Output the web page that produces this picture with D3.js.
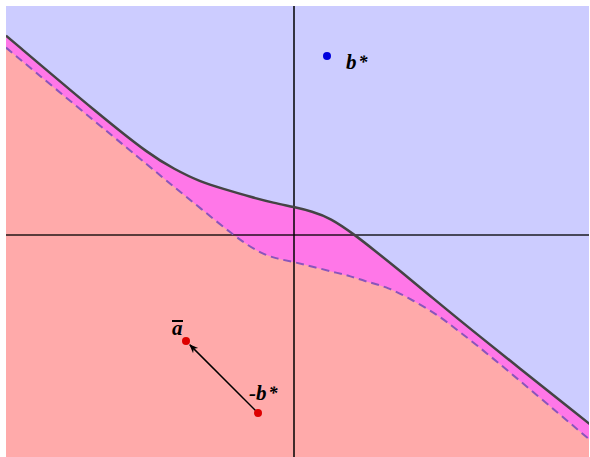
<!DOCTYPE html>
<html>
<head>
<meta charset="utf-8">
<script src="https://cdn.jsdelivr.net/npm/d3@7"></script>
<style>
  body { margin: 0; background: #fff; }
  .lbl { font-family: "Liberation Serif", "DejaVu Serif", serif; font-weight: bold; font-style: italic; font-size: 21px; }
</style>
</head>
<body>
<svg id="chart" width="590" height="457"></svg>
<script>
// upper (solid) boundary
var upperX = [-2.88, -1.92, -1.44, -1.20, -0.94, -0.70, -0.44, -0.20, 0, 0.18, 0.36, 0.61, 0.80, 1.06, 1.40, 1.73, 2.96];
var upperY = [1.994, 1.18, 0.802, 0.66, 0.532, 0.46, 0.382, 0.32, 0.28, 0.236, 0.172, 0, -0.15, -0.358, -0.64, -0.914, -1.893];

// lower (dashed) boundary
var lowerX = [-2.88, -1.92, -1.44, -1.20, -0.94, -0.61, -0.36, -0.18, 0, 0.20, 0.44, 0.56, 0.70, 0.94, 1.20, 1.44, 1.63, 1.92, 2.96];
var lowerY = [1.874, 1.076, 0.682, 0.48, 0.272, 0, -0.172, -0.236, -0.27, -0.32, -0.382, -0.41, -0.46, -0.52, -0.66, -0.80, -0.95, -1.17, -2.05];

var pointNames = ["b*", "-b*", "a"];
var pointX = [0.33, -0.36, -1.08];
var pointY = [1.79, -1.78, -1.06];

var svg = d3.select("#chart");
var padL = 6, padT = 6, padR = 589, padB = 457;

var x = d3.scaleLinear().domain([-2.88, 2.95]).range([padL, padR]);
var y = d3.scaleLinear().domain([-2.22, 2.29]).range([padB, padT]);

svg.append("clipPath").attr("id", "clip")
  .append("rect").attr("x", padL).attr("y", padT)
  .attr("width", padR - padL).attr("height", padB - padT);

var g = svg.append("g").attr("clip-path", "url(#clip)");

g.append("rect").attr("x", padL).attr("y", padT)
  .attr("width", padR - padL).attr("height", padB - padT)
  .attr("fill", "#ccccff");

var upper = upperX.map(function(v, i) { return [v, upperY[i]]; });
var lower = lowerX.map(function(v, i) { return [v, lowerY[i]]; });

var line = d3.line()
  .x(function(d) { return x(d[0]); })
  .y(function(d) { return y(d[1]); })
  .curve(d3.curveBasis);

// band between curves
var bandPath = line(upper) + "L" + x(upperX[upperX.length - 1]) + "," + y(-3) +
  "L" + x(upperX[0]) + "," + y(-3) + "Z";
g.append("path").attr("d", bandPath).attr("fill", "#ff77e8");

var lowArea = d3.area()
  .x(function(d) { return x(d[0]); })
  .y0(y(-3))
  .y1(function(d) { return y(d[1]); })
  .curve(d3.curveBasis);
g.append("path").datum(lower).attr("d", lowArea).attr("fill", "#ffaaaa");

// axes
g.append("line").attr("x1", padL).attr("x2", padR)
  .attr("y1", y(0)).attr("y2", y(0))
  .attr("stroke", "#000").attr("stroke-opacity", 0.65).attr("stroke-width", 2);
g.append("line").attr("x1", x(0)).attr("x2", x(0))
  .attr("y1", padT).attr("y2", padB)
  .attr("stroke", "#000").attr("stroke-width", 1.5);

g.append("path").datum(lower).attr("d", line)
  .attr("fill", "none").attr("stroke", "#8a55bb").attr("stroke-width", 2)
  .attr("stroke-dasharray", "8,5");
g.append("path").datum(upper).attr("d", line)
  .attr("fill", "none").attr("stroke", "#444").attr("stroke-width", 2.5);

// arrow from -b* to a-bar
svg.append("defs").append("marker")
  .attr("id", "head").attr("viewBox", "0 0 10 10")
  .attr("refX", 9).attr("refY", 5)
  .attr("markerWidth", 9).attr("markerHeight", 9)
  .attr("markerUnits", "userSpaceOnUse")
  .attr("orient", "auto")
  .append("path").attr("d", "M0,1L10,5L0,9L3,5Z").attr("fill", "#000");

var x0 = x(pointX[1]), y0 = y(pointY[1]), x1 = x(pointX[2]), y1 = y(pointY[2]);
var len = Math.hypot(x1 - x0, y1 - y0);
var ux = (x1 - x0) / len, uy = (y1 - y0) / len;
svg.append("line")
  .attr("x1", x0).attr("y1", y0)
  .attr("x2", x1 - ux * 5.5).attr("y2", y1 - uy * 5.5)
  .attr("stroke", "#000").attr("stroke-width", 1.5)
  .attr("marker-end", "url(#head)");

var colors = ["#0000dd", "#dd0000", "#dd0000"];
svg.selectAll("circle.pt").data(pointNames).enter().append("circle")
  .attr("class", "pt")
  .attr("cx", function(d, i) { return x(pointX[i]); })
  .attr("cy", function(d, i) { return y(pointY[i]); })
  .attr("r", 4)
  .attr("fill", function(d, i) { return colors[i]; });

// labels
var t1 = svg.append("text").attr("class", "lbl")
  .attr("x", x(pointX[0]) + 19).attr("y", y(pointY[0]) + 13);
t1.append("tspan").text("b");
t1.append("tspan").attr("dx", 2).attr("dy", -1).attr("font-size", 18).text("*");

var t2 = svg.append("text").attr("class", "lbl")
  .attr("x", x(pointX[1]) - 9).attr("y", y(pointY[1]) - 13);
t2.append("tspan").text("-b");
t2.append("tspan").attr("dx", 2).attr("dy", -1).attr("font-size", 18).text("*");

svg.append("text").attr("class", "lbl")
  .attr("x", x(pointX[2]) - 14).attr("y", y(pointY[2]) - 6)
  .text("a");
svg.append("line")
  .attr("x1", x(pointX[2]) - 14).attr("x2", x(pointX[2]) - 3)
  .attr("y1", y(pointY[2]) - 20).attr("y2", y(pointY[2]) - 20)
  .attr("stroke", "#000").attr("stroke-width", 2);
</script>
</body>
</html>
